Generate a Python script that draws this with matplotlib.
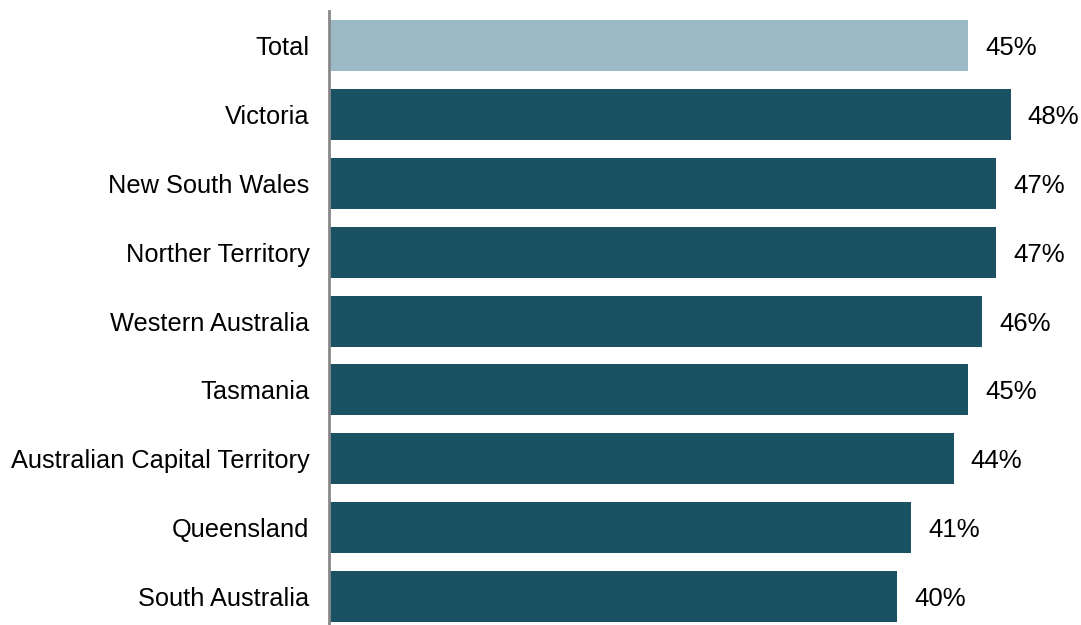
import matplotlib
matplotlib.use("Agg")
import matplotlib.pyplot as plt

plt.rcParams['font.family'] = ['Liberation Sans', 'DejaVu Sans']

regions = ["Total", "Victoria", "New South Wales", "Norther Territory",
           "Western Australia", "Tasmania", "Australian Capital Territory",
           "Queensland", "South Australia"]
values = [45, 48, 47, 47, 46, 45, 44, 41, 40]

dark = "#1a5263"
light = "#9bbac6"
colours = [light] + [dark] * (len(regions) - 1)

fig = plt.figure(figsize=(10.81, 6.25), dpi=100)
W, H = 1081, 625
ax = fig.add_axes([329 / W, 0, 1 - 329 / W, 1 - 11 / H])

ypos = list(range(len(regions)))
bars = ax.barh(ypos, values, height=0.74, color=colours)

ax.set_xlim(0, (W - 329) / 14.2)
ax.set_ylim((H - 11) / 68.9 - 0.5, -0.5)

for y, v in zip(ypos, values):
    ax.text(v + 1.2, y, f"{v}%", va="center_baseline", ha="left", fontsize=18.5)

ax.set_yticks(ypos)
ax.set_yticklabels(regions, fontsize=18.3)
ax.tick_params(axis="y", length=0, pad=14)
ax.set_xticks([])
for s in ["top", "right", "bottom"]:
    ax.spines[s].set_visible(False)
ax.spines["left"].set_color("#888888")
ax.spines["left"].set_linewidth(2)

fig.savefig("out.png", dpi=100)
